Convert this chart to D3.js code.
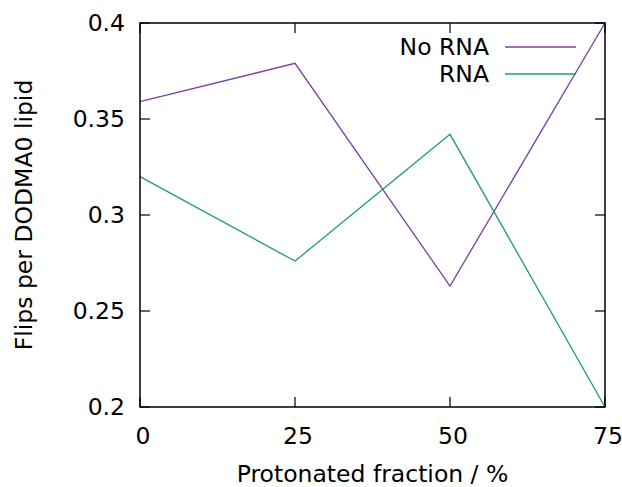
<!DOCTYPE html>
<html>
<head>
<meta charset="UTF-8" />
<title>Flips per DODMA0 lipid</title>
<script src="https://cdn.jsdelivr.net/npm/d3@7"></script>
<style type="text/css">
body {
    margin: 0;
    background-color: #fff;
}
svg text {
    font-family: "DejaVu Sans", sans-serif;
    font-size: 23.5px;
    fill: #000;
}
</style>
</head>
<body>
<svg width="622" height="487" id="svg1"></svg>

<script type="text/javascript">
// protonated fraction (%) and flips per lipid for each condition
var fractions = [0, 25, 50, 75];
var noRna = [0.359, 0.379, 0.263, 0.4];
var withRna = [0.320, 0.276, 0.342, 0.2];
var xTicks = [0, 25, 50, 75];
var yTicks = [0.2, 0.25, 0.3, 0.35, 0.4];

var series = [
    { name: "No RNA", values: noRna, color: "#7b3fa0" },
    { name: "RNA", values: withRna, color: "#1b9d73" }
];

(function() {
    var svg = d3.select("#svg1");
    var pLeft = 140, pRight = 605, pTop = 23, pBottom = 407;

    var x = d3.scaleLinear().domain([0, 75]).range([pLeft, pRight]);
    var y = d3.scaleLinear().domain([0.2, 0.4]).range([pBottom, pTop]);

    var tick = 10;

    // tick marks on all four sides, pointing inward
    var ticks = svg.append("g").attr("stroke", "#000").attr("stroke-width", 1.2);
    yTicks.forEach(function(v) {
        ticks.append("line").attr("x1", pLeft).attr("x2", pLeft + tick).attr("y1", y(v)).attr("y2", y(v));
        ticks.append("line").attr("x1", pRight).attr("x2", pRight - tick).attr("y1", y(v)).attr("y2", y(v));
    });
    xTicks.forEach(function(v) {
        ticks.append("line").attr("x1", x(v)).attr("x2", x(v)).attr("y1", pBottom).attr("y2", pBottom - tick);
        ticks.append("line").attr("x1", x(v)).attr("x2", x(v)).attr("y1", pTop).attr("y2", pTop + tick);
    });

    svg.append("g").selectAll("text").data(yTicks).enter().append("text")
        .attr("x", pLeft - 15)
        .attr("y", function(d) { return y(d); })
        .attr("dy", "0.36em")
        .attr("text-anchor", "end")
        .text(function(d) { return d3.format("")(d); });

    svg.append("g").selectAll("text").data(xTicks).enter().append("text")
        .attr("x", function(d) { return x(d) + 3; })
        .attr("y", 444)
        .attr("text-anchor", "middle")
        .text(function(d) { return d; });

    var line = d3.line()
        .x(function(d, i) { return x(fractions[i]); })
        .y(function(d) { return y(d); });

    svg.append("g").selectAll("path").data(series).enter().append("path")
        .attr("d", function(s) { return line(s.values); })
        .attr("fill", "none")
        .attr("stroke", function(s) { return s.color; })
        .attr("stroke-width", 1.3);

    // legend in the top right corner
    var legend = svg.append("g").selectAll("g").data(series).enter().append("g")
        .attr("transform", function(s, i) { return "translate(0," + (47 + i * 27) + ")"; });
    legend.append("text")
        .attr("x", 489)
        .attr("dy", "0.36em")
        .attr("text-anchor", "end")
        .text(function(s) { return s.name; });
    legend.append("line")
        .attr("x1", 505).attr("x2", 576)
        .attr("stroke", function(s) { return s.color; })
        .attr("stroke-width", 1.3);

    svg.append("rect")
        .attr("x", pLeft).attr("y", pTop)
        .attr("width", pRight - pLeft).attr("height", pBottom - pTop)
        .attr("fill", "none").attr("stroke", "#000").attr("stroke-width", 1.5);

    svg.append("text")
        .attr("x", (pLeft + pRight) / 2)
        .attr("y", 482)
        .attr("text-anchor", "middle")
        .text("Protonated fraction / %");

    svg.append("text")
        .attr("transform", "translate(32," + ((pTop + pBottom) / 2) + ") rotate(-90)")
        .attr("text-anchor", "middle")
        .text("Flips per DODMA0 lipid");
})();
</script>
</body>
</html>
